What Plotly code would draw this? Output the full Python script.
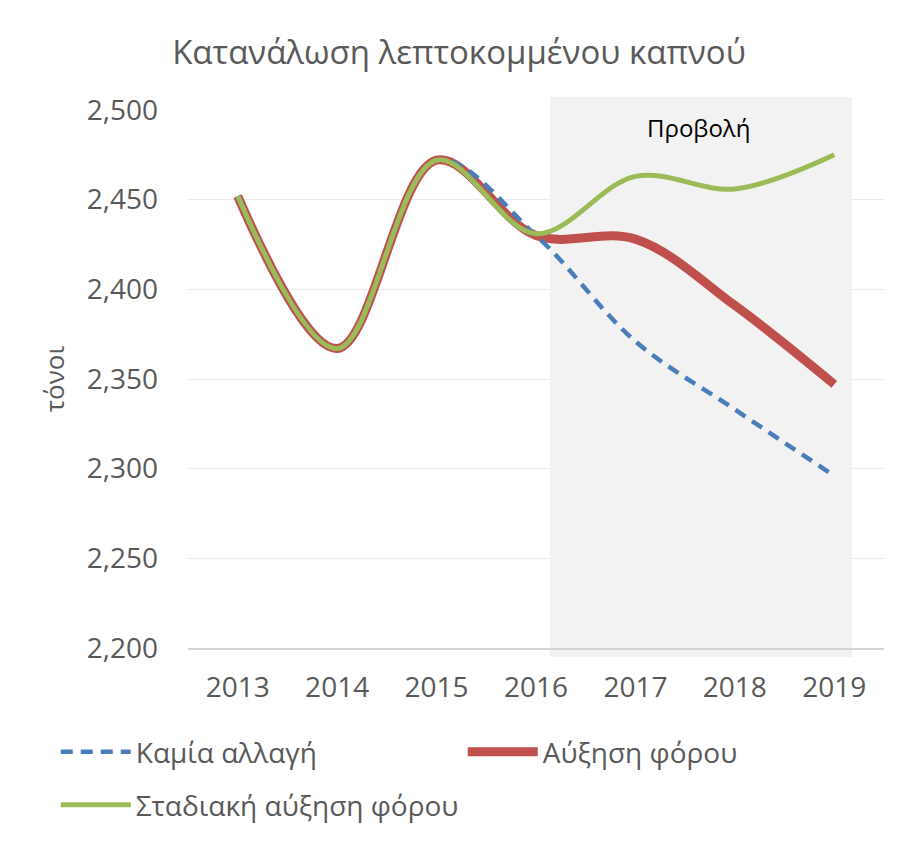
import plotly.graph_objects as go

years = ["2013", "2014", "2015", "2016", "2017", "2018", "2019"]
no_change = [2452, 2367, 2472, 2430, 2371, 2333, 2296]
tax_rise = [2452, 2367, 2472, 2430, 2428, 2391, 2347]
gradual_rise = [2452, 2367, 2472, 2431, 2463, 2456, 2475]
names = ["Καμία αλλαγή", "Αύξηση φόρου", "Σταδιακή αύξηση φόρου"]
y_ticks = [2200, 2250, 2300, 2350, 2400, 2450, 2500]

TXT = "#595959"
FONT = "Open Sans"

fig = go.Figure()
fig.add_trace(go.Scatter(x=years, y=tax_rise, name=names[1], mode="lines",
                         line=dict(color="#C0504D", width=9, shape="spline", smoothing=1),
                         legend="legend", legendrank=2))
fig.add_trace(go.Scatter(x=years, y=no_change, name=names[0], mode="lines",
                         line=dict(color="#4A7EBB", width=4.5, dash="12px,8px", shape="spline", smoothing=1),
                         legend="legend", legendrank=1))
fig.add_trace(go.Scatter(x=years, y=gradual_rise, name=names[2], mode="lines",
                         line=dict(color="#9BBB59", width=5, shape="spline", smoothing=1),
                         legend="legend2", legendrank=3))

shade = "#F2F2F2"
fig.add_shape(type="rect", xref="x", yref="y", x0=3.14, x1=6.18, y0=2200, y1=2500,
              fillcolor=shade, line_width=0, layer="between")
fig.add_shape(type="rect", xref="x", yref="paper", x0=3.14, x1=6.18, y0=0.998, y1=1.024,
              fillcolor=shade, line_width=0, layer="above")
fig.add_shape(type="rect", xref="x", yref="paper", x0=3.14, x1=6.18, y0=-0.0167, y1=0,
              fillcolor=shade, line_width=0, layer="below")

fig.add_annotation(x=4.63, y=2490, xref="x", yref="y", text="Προβολή", showarrow=False,
                   font=dict(family=FONT, size=24, color="#000000"))

leg_common = dict(orientation="h", xanchor="left", yanchor="middle",
                  font=dict(family=FONT, size=28, color=TXT),
                  entrywidth=322, entrywidthmode="pixels", itemwidth=70,
                  bgcolor="rgba(0,0,0,0)")

fig.update_layout(
    width=900, height=843,
    paper_bgcolor="white", plot_bgcolor="white",
    margin=dict(l=188, r=16, t=110, b=195),
    title=dict(text="Κατανάλωση λεπτοκομμένου καπνού", x=0.51, xanchor="center",
               y=0.938, yanchor="middle", font=dict(family=FONT, size=33, color=TXT)),
    showlegend=True,
    legend=dict(x=-0.19, y=-0.1933, **leg_common),
    legend2=dict(x=-0.19, y=-0.2918, **leg_common),
    font=dict(family=FONT, color=TXT),
)
fig.update_xaxes(type="category", range=[-0.5, 6.5], showgrid=False,
                 showline=True, linecolor="#D4D4D4", linewidth=1.5,
                 tickfont=dict(family=FONT, size=28, color=TXT), ticks="",
                 ticklabelstandoff=14)
fig.update_yaxes(range=[2200, 2500], tickvals=y_ticks, tickformat=",d",
                 showgrid=True, gridcolor="#EBEBEB", gridwidth=1.3,
                 zeroline=False, showline=False, ticks="",
                 tickfont=dict(family=FONT, size=28, color=TXT),
                 ticklabelstandoff=29,
                 title=dict(text="τόνοι", font=dict(family=FONT, size=26, color=TXT), standoff=14))

fig.write_html("out.html", config={"displayModeBar": False},
               post_script="document.body.style.margin='0';")
